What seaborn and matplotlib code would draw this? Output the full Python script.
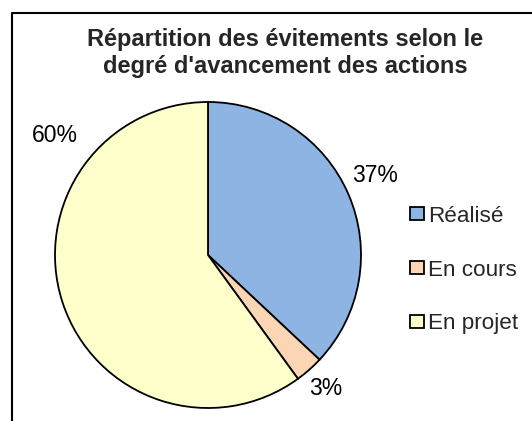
import matplotlib
matplotlib.use('Agg')
import matplotlib.pyplot as plt
import seaborn as sns
import numpy as np
from matplotlib.lines import Line2D

# Data
categories = ['Réalisé', 'En cours', 'En projet']
shares = [37, 3, 60]
slice_colors = ['#8EB4E3', '#FCD5B4', '#FFFFCC']
title_text = "Répartition des évitements selon le\ndegré d'avancement des actions"

sns.set_style("white")
plt.rcParams['font.family'] = ['Liberation Sans', 'DejaVu Sans']

W, H = 532, 421
fig = plt.figure(figsize=(W / 100, H / 100), dpi=100)
fig.patch.set_facecolor('white')

# pie centre (208, 255) px from top-left, radius 153 px
cx, cy, r = 208, 255, 153
ax = fig.add_axes([(cx - r) / W, (H - cy - r) / H, 2 * r / W, 2 * r / H])

wedges, texts, autotexts = ax.pie(
    shares, colors=slice_colors, startangle=90, counterclock=False,
    autopct='%1.0f%%', pctdistance=1.2, radius=1,
    wedgeprops=dict(edgecolor='black', linewidth=1.3),
    textprops=dict(fontsize=16.5, color='black'))
ax.set_xlim(-1, 1)
ax.set_ylim(-1, 1)
ax.set_aspect('equal')

# custom label positions (fractions of radius)
label_pos = [(1.09, 0.52), (0.77, -0.87), (-1.0, 0.78)]
for t, (lx, ly) in zip(autotexts, label_pos):
    t.set_position((lx, ly))
    t.set_ha('center')
    t.set_va('center')

# Legend
fig.legend(wedges, categories, loc='center left',
           bbox_to_anchor=(410 / W, (H - 270) / H), frameon=False,
           fontsize=16.2, handlelength=0.62, handleheight=0.5,
           handletextpad=0.2, labelspacing=1.45, borderpad=0, borderaxespad=0)
for h in fig.legends[0].legend_handles:
    h.set_edgecolor('black')
    h.set_linewidth(1.3)

# Title
fig.text(285 / W, 1 - 28 / H, title_text, ha='center', va='top',
         fontsize=17, fontweight='bold', linespacing=1.2)

# Chart area border (partially cropped)
fig.add_artist(Line2D([12 / W, 12 / W, 1.0], [0.0, 1 - 13 / H, 1 - 13 / H],
                      transform=fig.transFigure, color='black', linewidth=1.5))

fig.savefig('out.png', dpi=100)
